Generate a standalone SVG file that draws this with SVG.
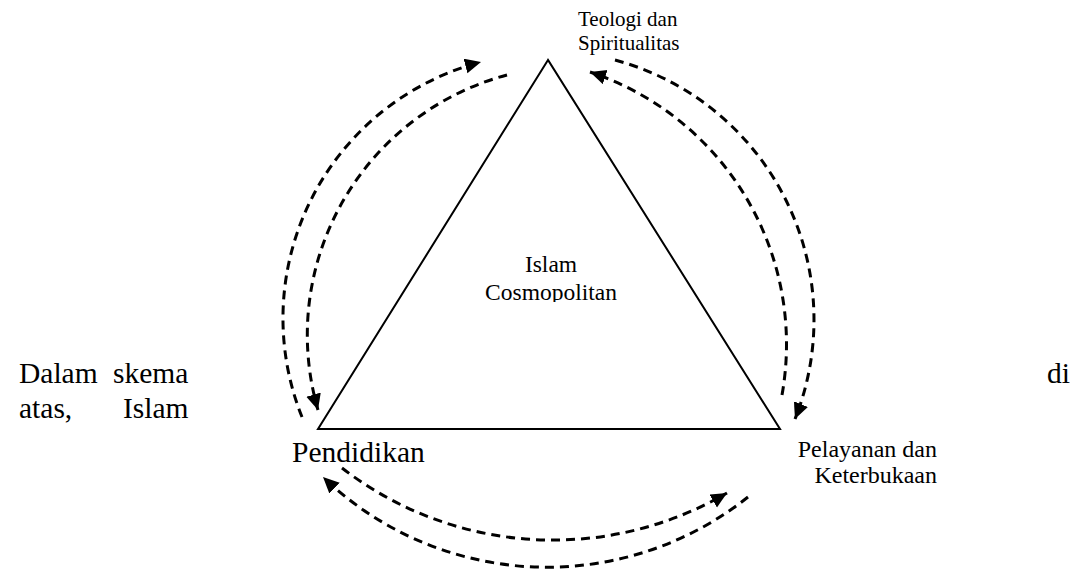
<svg xmlns="http://www.w3.org/2000/svg" width="1078" height="572" viewBox="0 0 1078 572">
<style>
text{font-family:"Liberation Serif","Times New Roman",serif;fill:#000}
.big{font-size:29.5px}
.mid{font-size:23.5px}
.lbl{font-size:24px}
.sm{font-size:21px}
.dash{fill:none;stroke:#000;stroke-width:3;stroke-dasharray:9 6}
</style>
<defs>
<marker id="ah" markerUnits="userSpaceOnUse" markerWidth="18" markerHeight="16" refX="16" refY="7.5" orient="auto">
<path d="M0,0 L16,7.5 L0,15 z" fill="#000"/>
</marker>
<clipPath id="cc"><rect x="440" y="230" width="220" height="72"/></clipPath>
</defs>
<rect width="1078" height="572" fill="#fff"/>
<g id="paragraph">
<text class="big" x="19" y="383">Dalam</text>
<text class="big" x="113" y="383">skema</text>
<text class="big" x="1047" y="383">di</text>
<text class="big" x="19" y="418">atas,</text>
<text class="big" x="123" y="418">Islam</text>
</g>
<g id="triangle">
<polygon points="548,60 318,429 780,429" fill="none" stroke="#000" stroke-width="2"/>
<g clip-path="url(#cc)">
<text class="mid" x="551" y="272" text-anchor="middle">Islam</text>
<text class="mid" x="551" y="300" text-anchor="middle">Cosmopolitan</text>
</g>
</g>
<g id="node-teologi">
<text class="sm" x="578" y="26">Teologi dan</text>
<text class="sm" x="578" y="50">Spiritualitas</text>
</g>
<g id="node-pendidikan">
<text class="big" x="292" y="462">Pendidikan</text>
</g>
<g id="node-pelayanan">
<text class="lbl" x="937" y="457" text-anchor="end">Pelayanan dan</text>
<text class="lbl" x="937" y="483" text-anchor="end">Keterbukaan</text>
</g>
<g id="connectors">
<path class="dash" d="M302,417 A265,265 0 0 1 481,62" marker-end="url(#ah)"/>
<path class="dash" d="M507,75 A269,269 0 0 0 318,410" marker-end="url(#ah)"/>
<path class="dash" d="M782,395 A287,287 0 0 0 590,72" marker-end="url(#ah)"/>
<path class="dash" d="M615,60 A269,269 0 0 1 795,419" marker-end="url(#ah)"/>
<path class="dash" d="M342,468 A345,345 0 0 0 727,493" marker-end="url(#ah)"/>
<path class="dash" d="M748,497 A323,323 0 0 1 323,477" marker-end="url(#ah)"/>
</g>
</svg>
